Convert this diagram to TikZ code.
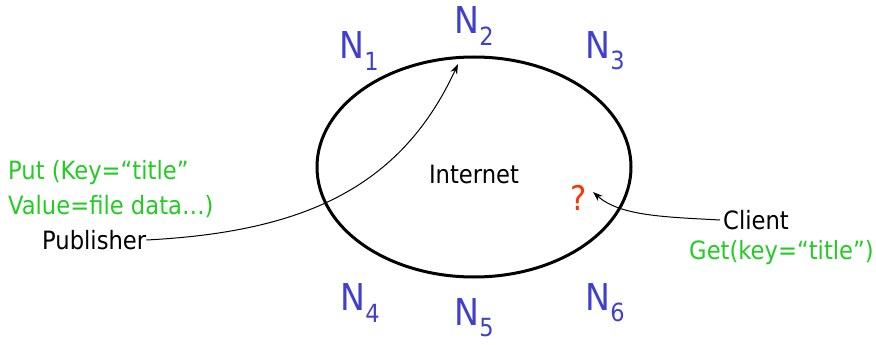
\documentclass[tikz,border=0pt]{standalone}
\usepackage{fontspec}
\setmainfont{DejaVu Sans Condensed}
\usetikzlibrary{arrows.meta}
\definecolor{nblue}{RGB}{64,64,204}
\definecolor{tgreen}{RGB}{34,204,34}
\definecolor{qred}{RGB}{255,51,0}
\tikzset{
  nlab/.style={text=nblue,font=\fontsize{37}{42}\selectfont,inner sep=0pt},
  txt/.style={font=\fontsize{25.2}{30}\selectfont,inner sep=0pt},
  conn/.style={line width=1pt,-{Stealth[length=10pt,width=7pt]}}
}
\newcommand{\Nsub}[1]{N\raisebox{-0.3em}{\fontsize{25}{28}\selectfont #1}}
\begin{document}
\begin{tikzpicture}[x=1pt,y=-1pt]
\useasboundingbox (0,0) rectangle (876,345);
\draw[line width=3pt] (474,167) ellipse [x radius=157, y radius=110];
\node[txt] (inet) at (474,174) {Internet};
\node[nlab] (n1) at (359,51) {\Nsub{1}};
\node[nlab] (n2) at (474,26) {\Nsub{2}};
\node[nlab] (n3) at (605,51) {\Nsub{3}};
\node[nlab] (n4) at (360,303) {\Nsub{4}};
\node[nlab] (n5) at (474,318) {\Nsub{5}};
\node[nlab] (n6) at (605,303) {\Nsub{6}};
\node[txt,text=tgreen,anchor=west] (put) at (8,173) {Put (Key=“title”};
\node[txt,text=tgreen,anchor=west] (val) at (8,207) {Value=file data…)};
\node[txt,anchor=west] (pub) at (42,240) {Publisher};
\node[txt,anchor=west] (cli) at (723,220) {Client};
\node[txt,text=tgreen,anchor=west] (get) at (689,253) {Get(key=“title”)};
\node[font=\fontsize{34}{38}\selectfont,text=qred,inner sep=0pt] (q) at (579,198) {?};
\coordinate (tgt) at (458,64);
\draw[conn] (pub.east) .. controls (300,232) and (400,190) .. (tgt);
\draw[conn] ([xshift=-3pt]cli.west) .. controls (665,217) and (620,216) .. (593,192);
\end{tikzpicture}
\end{document}
